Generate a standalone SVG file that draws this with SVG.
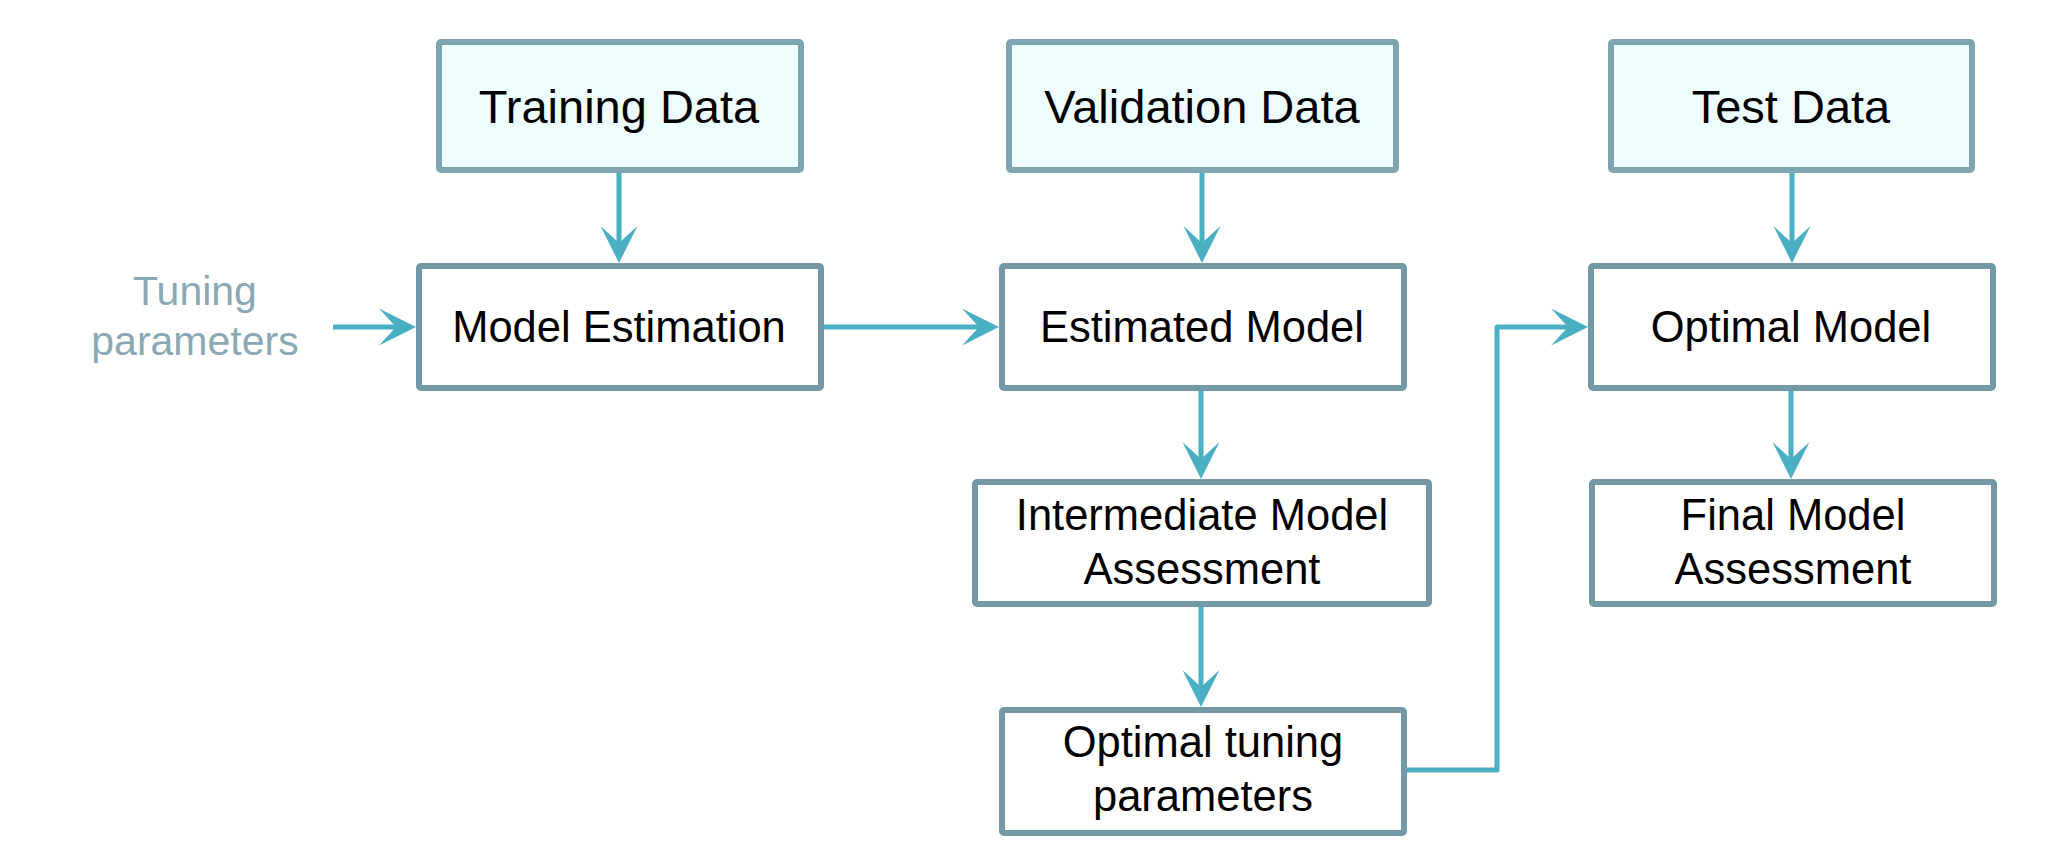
<svg xmlns="http://www.w3.org/2000/svg" width="2064" height="868" viewBox="0 0 2064 868">
<style>
.box{fill:#ffffff;stroke:#7399a6;stroke-width:6;}
.data{fill:#eefdfd;stroke:#7ea5b1;}
.t1{font-family:"Liberation Sans",Arial,sans-serif;font-size:47px;fill:#000;text-anchor:middle;}
.t2{font-family:"Liberation Sans",Arial,sans-serif;font-size:43.5px;fill:#000;text-anchor:middle;}
.tp{font-family:"Liberation Sans",Arial,sans-serif;font-size:41px;fill:#8aa8b4;text-anchor:middle;}
.conn{fill:none;stroke:#4aafc3;stroke-width:5;marker-end:url(#ah);}
</style>
<defs>
<marker id="ah" markerUnits="userSpaceOnUse" markerWidth="37" markerHeight="37" refX="22" refY="18.5" orient="auto" overflow="visible">
<path d="M37,18.5 L0,0 L17,18.5 L0,37 Z" fill="#4aafc3"/>
</marker>
</defs>
<rect width="2064" height="868" fill="#ffffff"/>
<g id="tuning-label">
<text class="tp" x="195" y="305">Tuning</text>
<text class="tp" x="195" y="355">parameters</text>
</g>
<g id="training-data">
<rect class="box data" x="439" y="42" width="362" height="128" rx="2"/>
<text class="t1" x="619" y="123">Training Data</text>
</g>
<g id="validation-data">
<rect class="box data" x="1009" y="42" width="387" height="128" rx="2"/>
<text class="t1" x="1202" y="123">Validation Data</text>
</g>
<g id="test-data">
<rect class="box data" x="1611" y="42" width="361" height="128" rx="2"/>
<text class="t1" x="1791" y="123">Test Data</text>
</g>
<g id="model-estimation">
<rect class="box" x="419" y="266" width="402" height="122" rx="2"/>
<text class="t2" x="619" y="342">Model Estimation</text>
</g>
<g id="estimated-model">
<rect class="box" x="1002" y="266" width="402" height="122" rx="2"/>
<text class="t2" x="1202" y="342">Estimated Model</text>
</g>
<g id="optimal-model">
<rect class="box" x="1591" y="266" width="402" height="122" rx="2"/>
<text class="t2" x="1791" y="342">Optimal Model</text>
</g>
<g id="intermediate-assessment">
<rect class="box" x="975" y="482" width="454" height="122" rx="2"/>
<text class="t2" x="1202" y="530">Intermediate Model</text>
<text class="t2" x="1202" y="584">Assessment</text>
</g>
<g id="final-assessment">
<rect class="box" x="1592" y="482" width="402" height="122" rx="2"/>
<text class="t2" x="1793" y="530">Final Model</text>
<text class="t2" x="1793" y="584">Assessment</text>
</g>
<g id="optimal-tuning">
<rect class="box" x="1002" y="710" width="402" height="123" rx="2"/>
<text class="t2" x="1203" y="757">Optimal tuning</text>
<text class="t2" x="1203" y="811">parameters</text>
</g>
<g id="connectors">
<path class="conn" d="M619,173 V248"/>
<path class="conn" d="M1202,173 V248"/>
<path class="conn" d="M1792,173 V248"/>
<path class="conn" d="M333,327 H401"/>
<path class="conn" d="M824,327 H984"/>
<path class="conn" d="M1201,391 V464"/>
<path class="conn" d="M1201,607 V692"/>
<path class="conn" d="M1407,770 H1497 V327 H1573" stroke-linejoin="round"/>
<path class="conn" d="M1791,391 V464"/>
</g>
</svg>
